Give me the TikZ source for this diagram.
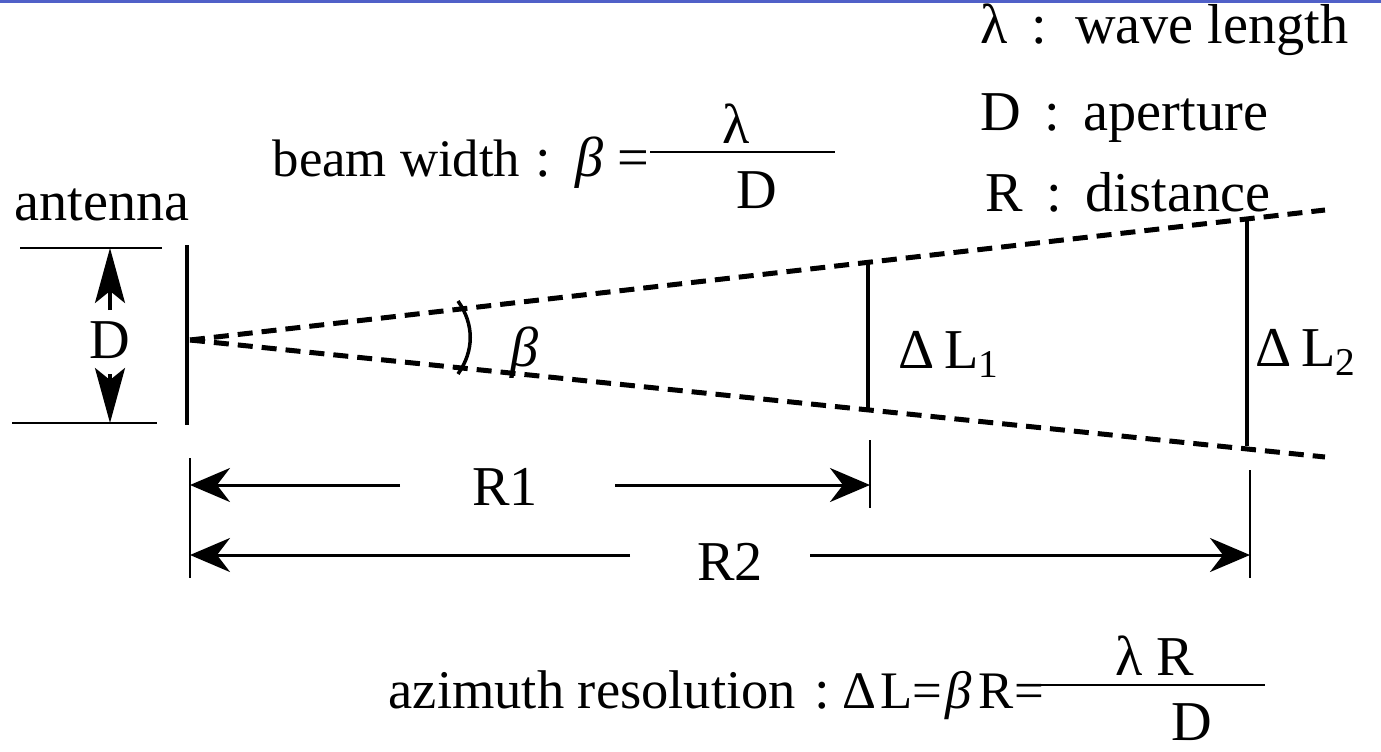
\documentclass[tikz,border=0pt]{standalone}
\usepackage{fontspec}
\setmainfont{Liberation Serif}
\usetikzlibrary{arrows.meta}
\definecolor{topblue}{RGB}{80,96,200}

\begin{document}
\begin{tikzpicture}[x=0.01cm,y=-0.01cm,
lbl/.style={inner sep=0pt,font=\fontsize{16}{18}\selectfont},
small/.style={font=\fontsize{15}{18}\selectfont},
beam/.style={line width=0.5mm,dash pattern=on 1.5mm off 0.9mm},
bar/.style={line width=0.35mm},
thin/.style={line width=0.2mm},
dimarr/.style={-{Stealth[length=4mm,width=3.4mm]},line width=0.3mm},
darr/.style={-{Stealth[length=5.5mm,width=3mm,inset=1.2mm]},line width=0.3mm}]
\useasboundingbox (0,0) rectangle (1381,751);
\draw[topblue,line width=0.3mm] (0,1.5) -- (1381,1.5);
% legend
\node[lbl,anchor=base west] (lam) at (980,43) {λ\, :\, wave length};
\node[lbl,anchor=base west] (apt) at (980,130) {D\, :\, aperture};
\node[lbl,anchor=base west] (dst) at (985,211) {R\, :\, distance};
% beam width formula
\node[lbl,small,anchor=base west] (bw) at (272,176) {beam width};
\node[lbl,anchor=base] (bwcol) at (543,176) {:};
\node[lbl,anchor=base east] (bweq) at (650,176) {\textit{β} =};
\coordinate (bwl) at (650,152); \coordinate (bwr) at (835,152);
\draw[thin] (bwl) -- (bwr);
\node[lbl,anchor=base] (bwnum) at (736,143) {λ};
\node[lbl,anchor=base] (bwden) at (757,208) {D};
% antenna and aperture
\node[lbl,anchor=base west] (ant) at (14,220) {antenna};
\coordinate (anttop) at (187,245); \coordinate (antbot) at (187,425);
\draw[bar] (anttop) -- (antbot);
\coordinate (dtopl) at (20,248); \coordinate (dtopr) at (162,248);
\coordinate (dbotl) at (12,423); \coordinate (dbotr) at (157,423);
\draw[thin] (dtopl) -- (dtopr); \draw[thin] (dbotl) -- (dbotr);
\node[lbl] (dlab) at (110,340) {D};
\draw[darr] (dlab.north |- 0,310) -- (dlab.north |- dtopl);
\draw[darr] (dlab.south |- 0,374) -- (dlab.south |- dbotl);
% beam
\coordinate (apex) at (190,340);
\coordinate (endtop) at (1325,210); \coordinate (endbot) at (1325,457);
\draw[beam] (apex) -- (endtop);
\draw[beam] (apex) -- (endbot);
\coordinate (arctop) at (458,301); \coordinate (arcbot) at (458,374);
\draw[bar] (arctop) to[bend left=35] (arcbot);
\node[lbl,anchor=base west] (blab) at (510,366) {\textit{β}};
% footprints
\coordinate (top1) at (868,262); \coordinate (bot1) at (868,408);
\coordinate (top2) at (1247,219); \coordinate (bot2) at (1247,446);
\draw[bar] (top1) -- (bot1);
\draw[bar] (top2) -- (bot2);
\node[lbl,anchor=base west] (dl1) at (898,368) {Δ\,L\textsubscript{1}};
\node[lbl,anchor=base west] (dl2) at (1255,366) {Δ\,L\textsubscript{2}};
% distances
\coordinate (e0t) at (190,458); \coordinate (e0b) at (190,578);
\coordinate (e1t) at (870,440); \coordinate (e1b) at (870,508);
\coordinate (e2t) at (1250,470); \coordinate (e2b) at (1250,578);
\draw[thin] (e0t) -- (e0b); \draw[thin] (e1t) -- (e1b); \draw[thin] (e2t) -- (e2b);
\node[lbl,anchor=base] (r1) at (505,505) {R1};
\node[lbl,anchor=base] (r2) at (730,580) {R2};
\draw[dimarr] (400,485) -- (e0t |- 0,485);
\draw[dimarr] (615,485) -- (e1t |- 0,485);
\draw[dimarr] (630,555) -- (e0t |- 0,555);
\draw[dimarr] (810,555) -- (e2t |- 0,555);
% azimuth resolution formula
\node[lbl,font=\fontsize{15.5}{18}\selectfont,anchor=base west] (az) at (388,708) {azimuth resolution};
\node[lbl,anchor=base] (azcol) at (822,708) {:};
\node[lbl,small,anchor=base west] (azeq) at (842,708) {Δ\kern1pt L=\kern1pt\textit{β}\kern2pt R=};
\coordinate (azl) at (1035,685); \coordinate (azr) at (1265,685);
\draw[thin] (azl) -- (azr);
\node[lbl,anchor=base] (aznum) at (1155,675) {λ R};
\node[lbl,anchor=base] (azden) at (1192,740) {D};
\end{tikzpicture}
\end{document}
